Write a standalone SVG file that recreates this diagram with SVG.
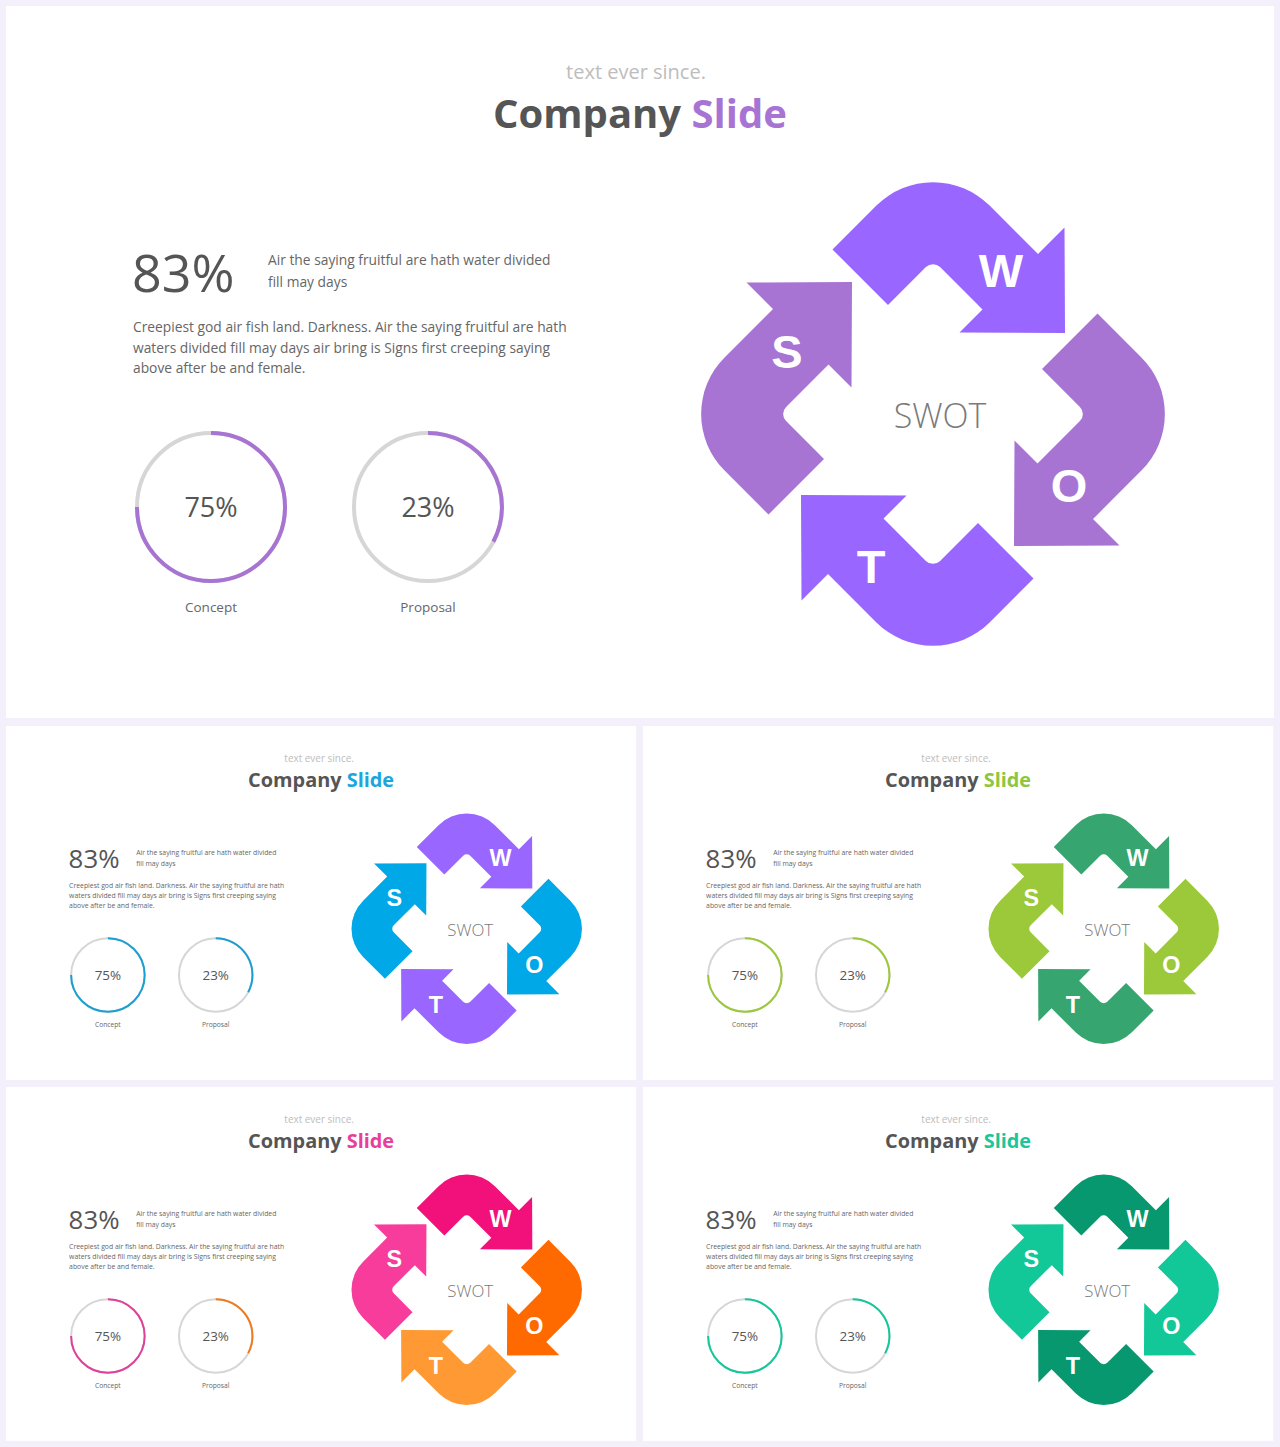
<svg xmlns="http://www.w3.org/2000/svg" xmlns:xlink="http://www.w3.org/1999/xlink" width="1280" height="1447" viewBox="0 0 1280 1447">
<style>
text{font-family:"Open Sans","Liberation Sans",sans-serif}
.bg{fill:#ffffff}
.sub{font-size:20px;fill:#bdbdbd;text-anchor:middle}
.title{font-size:40px;font-weight:bold;fill:#555555;text-anchor:middle}
.big{font-size:52px;fill:#555555}
.body{font-size:13.8px;fill:#666666}
.pct{font-size:27px;fill:#555555;text-anchor:middle}
.cap{font-size:13.5px;fill:#666666;text-anchor:middle}
.swot{font-size:34px;font-weight:300;fill:#7a7a7a;text-anchor:middle}
.let{font-family:"Liberation Sans",Arial,sans-serif;font-size:47px;font-weight:bold;fill:#ffffff;text-anchor:middle}
.track{fill:none;stroke:#d6d6d6;stroke-width:4}
.arc{fill:none;stroke-width:4}
</style>
<defs>
<path id="arr" d="M-100.5,-164.5 L-56.6,-208.4 A80,80 0 0 1 56.6,-208.4 L105,-160 L131.5,-186.5 L132,-81 L26.5,-81.5 L49.5,-104.5 L7.1,-146.9 A10,10 0 0 0 -7.1,-146.9 L-45,-109 Z"/>
</defs>
<rect x="0" y="0" width="1280" height="1447" fill="#f4f0fb"/>

<!-- Slide 1 (large) -->
<g id="slide-main" transform="translate(6,6)">
<rect class="bg" x="0" y="0" width="1268" height="712"/>
<text class="sub" x="630" y="73">text ever since.</text>
<text class="title" x="634" y="122">Company <tspan fill="#a874d4">Slide</tspan></text>
<text class="big" x="126" y="286">83%</text>
<text class="body" x="262" y="259">Air the saying fruitful are hath water divided</text>
<text class="body" x="262" y="281">fill may days</text>
<text class="body" x="127" y="326">Creepiest god air fish land. Darkness. Air the saying fruitful are hath</text>
<text class="body" x="127" y="347">waters divided fill may days air bring is Signs first creeping saying</text>
<text class="body" x="127" y="367">above after be and female.</text>
<g id="m-concept">
<circle class="track" cx="205" cy="501" r="74"/>
<path class="arc" stroke="#a874d4" d="M205,427 A74,74 0 1 1 131,501"/>
<text class="pct" x="205" y="511">75%</text>
<text class="cap" x="205" y="606">Concept</text>
</g>
<g id="m-proposal">
<circle class="track" cx="422" cy="501" r="74"/>
<path class="arc" stroke="#a874d4" d="M422,427 A74,74 0 0 1 487.3,535.7"/>
<text class="pct" x="422" y="511">23%</text>
<text class="cap" x="422" y="606">Proposal</text>
</g>
<g id="m-swot" transform="translate(927,408)">
<use href="#arr" fill="#9966ff"/>
<use href="#arr" transform="rotate(90)" fill="#a874d4"/>
<use href="#arr" transform="rotate(180)" fill="#9966ff"/>
<use href="#arr" transform="rotate(270)" fill="#a874d4"/>
<text class="swot" x="7" y="14">SWOT</text>
<text class="let" x="68" y="-127">W</text>
<text class="let" x="-146" y="-46">S</text>
<text class="let" x="136" y="88">O</text>
<text class="let" x="-62" y="169">T</text>
</g>
</g>

<!-- Slide 2 (blue) -->
<g id="slide-blue" transform="translate(6,726) scale(0.497)">
<rect class="bg" x="0" y="0" width="1268" height="712"/>
<text class="sub" x="630" y="73">text ever since.</text>
<text class="title" x="634" y="122">Company <tspan fill="#1ba6dd">Slide</tspan></text>
<text class="big" x="126" y="286">83%</text>
<text class="body" x="262" y="259">Air the saying fruitful are hath water divided</text>
<text class="body" x="262" y="281">fill may days</text>
<text class="body" x="127" y="326">Creepiest god air fish land. Darkness. Air the saying fruitful are hath</text>
<text class="body" x="127" y="347">waters divided fill may days air bring is Signs first creeping saying</text>
<text class="body" x="127" y="367">above after be and female.</text>
<g id="b-concept">
<circle class="track" cx="205" cy="501" r="74"/>
<path class="arc" stroke="#1a9fd3" d="M205,427 A74,74 0 1 1 131,501"/>
<text class="pct" x="205" y="511">75%</text>
<text class="cap" x="205" y="606">Concept</text>
</g>
<g id="b-proposal">
<circle class="track" cx="422" cy="501" r="74"/>
<path class="arc" stroke="#1a9fd3" d="M422,427 A74,74 0 0 1 487.3,535.7"/>
<text class="pct" x="422" y="511">23%</text>
<text class="cap" x="422" y="606">Proposal</text>
</g>
<g id="b-swot" transform="translate(927,408)">
<use href="#arr" fill="#9966ff"/>
<use href="#arr" transform="rotate(90)" fill="#00a8e8"/>
<use href="#arr" transform="rotate(180)" fill="#9966ff"/>
<use href="#arr" transform="rotate(270)" fill="#00a8e8"/>
<text class="swot" x="7" y="14">SWOT</text>
<text class="let" x="68" y="-127">W</text>
<text class="let" x="-146" y="-46">S</text>
<text class="let" x="136" y="88">O</text>
<text class="let" x="-62" y="169">T</text>
</g>
</g>

<!-- Slide 3 (green) -->
<g id="slide-green" transform="translate(643,726) scale(0.497)">
<rect class="bg" x="0" y="0" width="1268" height="712"/>
<text class="sub" x="630" y="73">text ever since.</text>
<text class="title" x="634" y="122">Company <tspan fill="#8dc63f">Slide</tspan></text>
<text class="big" x="126" y="286">83%</text>
<text class="body" x="262" y="259">Air the saying fruitful are hath water divided</text>
<text class="body" x="262" y="281">fill may days</text>
<text class="body" x="127" y="326">Creepiest god air fish land. Darkness. Air the saying fruitful are hath</text>
<text class="body" x="127" y="347">waters divided fill may days air bring is Signs first creeping saying</text>
<text class="body" x="127" y="367">above after be and female.</text>
<g id="g-concept">
<circle class="track" cx="205" cy="501" r="74"/>
<path class="arc" stroke="#9bc93a" d="M205,427 A74,74 0 1 1 131,501"/>
<text class="pct" x="205" y="511">75%</text>
<text class="cap" x="205" y="606">Concept</text>
</g>
<g id="g-proposal">
<circle class="track" cx="422" cy="501" r="74"/>
<path class="arc" stroke="#9bc93a" d="M422,427 A74,74 0 0 1 487.3,535.7"/>
<text class="pct" x="422" y="511">23%</text>
<text class="cap" x="422" y="606">Proposal</text>
</g>
<g id="g-swot" transform="translate(927,408)">
<use href="#arr" fill="#37a56f"/>
<use href="#arr" transform="rotate(90)" fill="#9bc93a"/>
<use href="#arr" transform="rotate(180)" fill="#37a56f"/>
<use href="#arr" transform="rotate(270)" fill="#9bc93a"/>
<text class="swot" x="7" y="14">SWOT</text>
<text class="let" x="68" y="-127">W</text>
<text class="let" x="-146" y="-46">S</text>
<text class="let" x="136" y="88">O</text>
<text class="let" x="-62" y="169">T</text>
</g>
</g>

<!-- Slide 4 (pink/orange) -->
<g id="slide-pink" transform="translate(6,1087) scale(0.497)">
<rect class="bg" x="0" y="0" width="1268" height="712"/>
<text class="sub" x="630" y="73">text ever since.</text>
<text class="title" x="634" y="122">Company <tspan fill="#e8409a">Slide</tspan></text>
<text class="big" x="126" y="286">83%</text>
<text class="body" x="262" y="259">Air the saying fruitful are hath water divided</text>
<text class="body" x="262" y="281">fill may days</text>
<text class="body" x="127" y="326">Creepiest god air fish land. Darkness. Air the saying fruitful are hath</text>
<text class="body" x="127" y="347">waters divided fill may days air bring is Signs first creeping saying</text>
<text class="body" x="127" y="367">above after be and female.</text>
<g id="p-concept">
<circle class="track" cx="205" cy="501" r="74"/>
<path class="arc" stroke="#e0409a" d="M205,427 A74,74 0 1 1 131,501"/>
<text class="pct" x="205" y="511">75%</text>
<text class="cap" x="205" y="606">Concept</text>
</g>
<g id="p-proposal">
<circle class="track" cx="422" cy="501" r="74"/>
<path class="arc" stroke="#f07a1e" d="M422,427 A74,74 0 0 1 487.3,535.7"/>
<text class="pct" x="422" y="511">23%</text>
<text class="cap" x="422" y="606">Proposal</text>
</g>
<g id="p-swot" transform="translate(927,408)">
<use href="#arr" fill="#f2107a"/>
<use href="#arr" transform="rotate(90)" fill="#ff6a00"/>
<use href="#arr" transform="rotate(180)" fill="#ff9933"/>
<use href="#arr" transform="rotate(270)" fill="#f73c9c"/>
<text class="swot" x="7" y="14">SWOT</text>
<text class="let" x="68" y="-127">W</text>
<text class="let" x="-146" y="-46">S</text>
<text class="let" x="136" y="88">O</text>
<text class="let" x="-62" y="169">T</text>
</g>
</g>

<!-- Slide 5 (teal) -->
<g id="slide-teal" transform="translate(643,1087) scale(0.497)">
<rect class="bg" x="0" y="0" width="1268" height="712"/>
<text class="sub" x="630" y="73">text ever since.</text>
<text class="title" x="634" y="122">Company <tspan fill="#1cc69a">Slide</tspan></text>
<text class="big" x="126" y="286">83%</text>
<text class="body" x="262" y="259">Air the saying fruitful are hath water divided</text>
<text class="body" x="262" y="281">fill may days</text>
<text class="body" x="127" y="326">Creepiest god air fish land. Darkness. Air the saying fruitful are hath</text>
<text class="body" x="127" y="347">waters divided fill may days air bring is Signs first creeping saying</text>
<text class="body" x="127" y="367">above after be and female.</text>
<g id="t-concept">
<circle class="track" cx="205" cy="501" r="74"/>
<path class="arc" stroke="#13c898" d="M205,427 A74,74 0 1 1 131,501"/>
<text class="pct" x="205" y="511">75%</text>
<text class="cap" x="205" y="606">Concept</text>
</g>
<g id="t-proposal">
<circle class="track" cx="422" cy="501" r="74"/>
<path class="arc" stroke="#13c898" d="M422,427 A74,74 0 0 1 487.3,535.7"/>
<text class="pct" x="422" y="511">23%</text>
<text class="cap" x="422" y="606">Proposal</text>
</g>
<g id="t-swot" transform="translate(927,408)">
<use href="#arr" fill="#07986f"/>
<use href="#arr" transform="rotate(90)" fill="#13c898"/>
<use href="#arr" transform="rotate(180)" fill="#07986f"/>
<use href="#arr" transform="rotate(270)" fill="#13c898"/>
<text class="swot" x="7" y="14">SWOT</text>
<text class="let" x="68" y="-127">W</text>
<text class="let" x="-146" y="-46">S</text>
<text class="let" x="136" y="88">O</text>
<text class="let" x="-62" y="169">T</text>
</g>
</g>
</svg>
